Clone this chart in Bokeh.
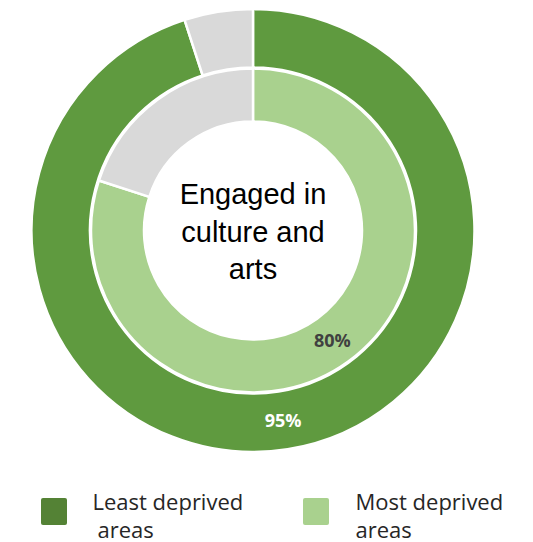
import math
from bokeh.plotting import figure
from bokeh.models import Range1d
from bokeh.core.properties import value
from bokeh.embed import file_html
from bokeh.resources import INLINE

# Data
series = ["Least deprived areas", "Most deprived areas"]
engaged_pct = [95, 80]
label_text = ["95%", "80%"]
center_lines = ["Engaged in", "culture and", "arts"]
legend_lines = [["Least deprived", "areas"], ["Most deprived", "areas"]]

W, H = 533, 542
p = figure(width=W, height=H, output_backend="svg", toolbar_location=None,
           x_range=Range1d(0, W), y_range=Range1d(0, H), min_border=0)
p.axis.visible = False
p.grid.visible = False
p.outline_line_color = None
p.background_fill_color = "white"

cx, cy = 252.5, H - 230
ring_colors = ["#5F9A3F", "#A9D18E"]
legend_colors = ["#548235", "#A9D18E"]
grey = "#D9D9D9"
rings = [(163, 221.5), (109, 162)]
label_r = [192, 135]
label_colors = ["white", "#404040"]

for i, pct in enumerate(engaged_pct):
    r0, r1 = rings[i]
    frac = pct / 100.0
    start = math.pi / 2
    mid = start - 2 * math.pi * frac
    p.annular_wedge(x=[cx, cx], y=[cy, cy], inner_radius=r0, outer_radius=r1,
                    start_angle=[start, mid], end_angle=[mid, start - 2 * math.pi],
                    direction="clock", fill_color=[ring_colors[i], grey],
                    line_color="white", line_width=2.5)
    a = start - math.pi * frac
    p.text(x=[cx + label_r[i] * math.cos(a)], y=[cy + label_r[i] * math.sin(a)],
           text=[label_text[i]], text_align="center", text_baseline="middle",
           text_font=value("Open Sans"), text_font_style="bold",
           text_font_size="18px", text_color=label_colors[i])

# Center text
ys = [H - 193, H - 231, H - 268]
p.text(x=[cx] * 3, y=ys, text=center_lines, text_align="center",
       text_baseline="middle", text_font=value("Liberation Sans"),
       text_font_size="29px", text_color="black")

# Legend
sq_x = [53.5, 315.5]
tx = [[92, 97], [355, 355]]
for i in range(2):
    p.rect(x=[sq_x[i]], y=[H - 511], width=26, height=27,
           fill_color=legend_colors[i], line_color=None,
           border_radius=2)
    p.text(x=tx[i], y=[H - 500, H - 528], text=legend_lines[i],
           text_align="left", text_baseline="middle",
           text_font=value("Open Sans"), text_font_size="22px",
           text_color="#262626")

open("out.html", "w").write(file_html(p, INLINE))
